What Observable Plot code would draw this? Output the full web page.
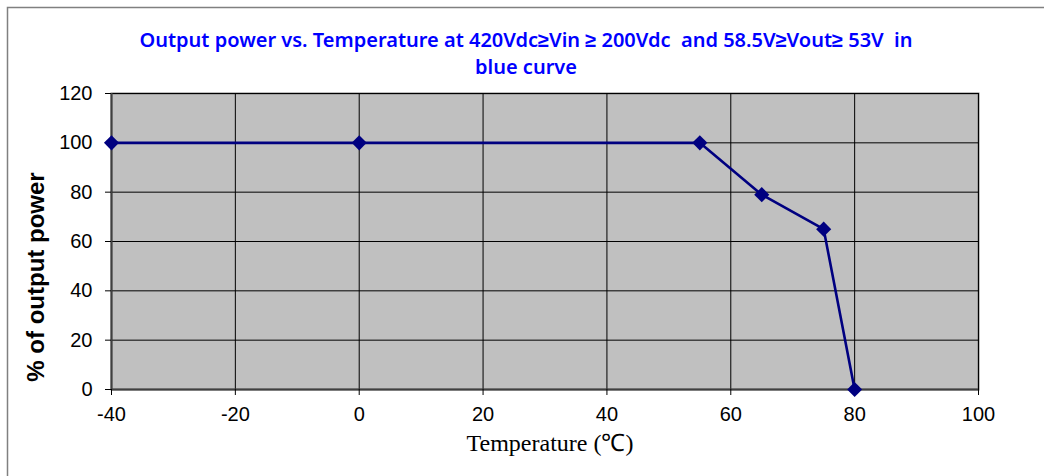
<!DOCTYPE html>
<html>
<head>
<meta charset="utf-8">
<script src="https://cdn.jsdelivr.net/npm/d3@7"></script>
<script src="https://cdn.jsdelivr.net/npm/@observablehq/plot@0.6"></script>
<style>
  html, body { margin: 0; padding: 0; background: #fff; }
  #chart svg { display: block; }
</style>
</head>
<body>
<div id="chart"></div>
<script>
const temperature = [-40, 0, 55, 65, 75, 80];
const outputPower = [100, 100, 100, 79, 65, 0];
const xTicks = [-40, -20, 0, 20, 40, 60, 80, 100];
const yTicks = [0, 20, 40, 60, 80, 100, 120];
const titleLines = [
  "Output power vs. Temperature at 420Vdc\u2265Vin \u2265 200Vdc  and 58.5V\u2265Vout\u2265 53V  in",
  "blue curve"
];
const xLabel = "Temperature (\u2103)";
const yLabel = "% of output power";

const data = temperature.map((t, i) => ({t, p: outputPower[i]}));

const W = 1044, H = 476;
const plot = Plot.plot({
  width: W,
  height: H,
  marginLeft: 111,
  marginRight: 66,
  marginTop: 93,
  marginBottom: 87,
  style: {fontFamily: "'Liberation Sans', Arial, sans-serif", fontSize: "20px", color: "#000", background: "transparent"},
  x: {domain: [-40, 100], ticks: xTicks, label: null},
  y: {domain: [0, 120], ticks: yTicks, label: null},
  marks: [
    Plot.frame({fill: "#c0c0c0", stroke: "#808080", strokeWidth: 2}),
    Plot.gridX(xTicks, {stroke: "#000", strokeOpacity: 1, strokeWidth: 1}),
    Plot.gridY(yTicks, {stroke: "#000", strokeOpacity: 1, strokeWidth: 1}),
    Plot.ruleY([0], {stroke: "#404040", strokeWidth: 2}),
    Plot.ruleX([-40], {stroke: "#404040", strokeWidth: 2}),
    Plot.axisX({ticks: xTicks, tickSize: 6, tickPadding: 11, stroke: "#000", label: null, tickFormat: d => String(d).replace("\u2212", "-")}),
    Plot.axisY({ticks: yTicks, tickSize: 6, tickPadding: 13, stroke: "#000", label: null}),
    Plot.line(data, {x: "t", y: "p", stroke: "#000080", strokeWidth: 2.6}),
    Plot.dot(data, {x: "t", y: "p", symbol: "diamond2", r: 6.8, fill: "#000080", stroke: "none"})
  ]
});

document.getElementById("chart").appendChild(plot);
const svg = d3.select(plot);

// outer chart border (extends beyond the right and bottom edges of the picture)
svg.insert("rect", ":first-child")
  .attr("x", 7.5).attr("y", 7.5)
  .attr("width", W + 20).attr("height", H + 20)
  .attr("fill", "#fff").attr("stroke", "#808080").attr("stroke-width", 1.5);

// title
const title = svg.append("text")
  .attr("text-anchor", "middle")
  .attr("fill", "#0000ff")
  .attr("font-family", "'Noto Sans', sans-serif")
  .attr("font-weight", 600)
  .attr("font-size", 20)
  .style("white-space", "pre");
titleLines.forEach((line, i) => {
  title.append("tspan").attr("x", 526).attr("y", 47 + i * 27).text(line);
});

// y label
svg.append("text")
  .attr("transform", "translate(44,277) rotate(-90)")
  .attr("text-anchor", "middle")
  .attr("font-family", "'Liberation Sans', Arial, sans-serif")
  .attr("font-weight", "bold")
  .attr("font-size", 24)
  .attr("fill", "#000")
  .text(yLabel);

// x label
svg.append("text")
  .attr("x", 550).attr("y", 451)
  .attr("text-anchor", "middle")
  .attr("font-family", "'Liberation Serif', 'Times New Roman', serif")
  .attr("font-size", 24)
  .attr("fill", "#000")
  .text(xLabel);
</script>
</body>
</html>
